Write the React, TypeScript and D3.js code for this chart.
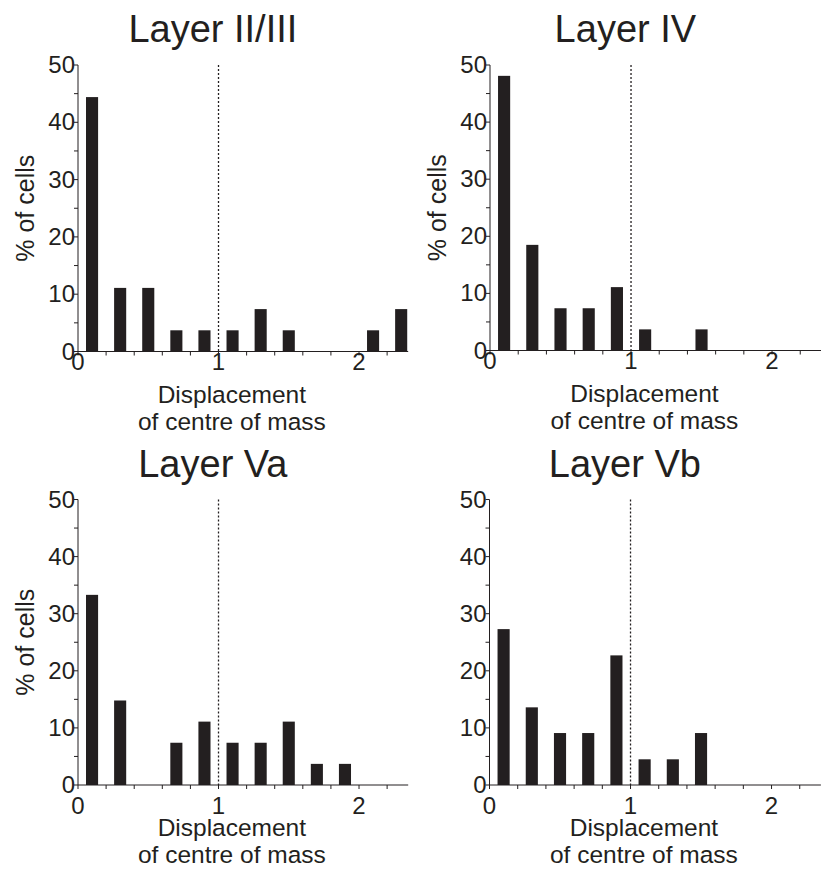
import React from "react";
import * as d3 from "d3";

const binCenters = [0.1, 0.3, 0.5, 0.7, 0.9, 1.1, 1.3, 1.5, 1.7, 1.9, 2.1, 2.3];
const layerII_III = [44.4, 11.1, 11.1, 3.7, 3.7, 3.7, 7.4, 3.7, 0, 0, 3.7, 7.4];
const layerIV = [48.1, 18.5, 7.4, 7.4, 11.1, 3.7, 0, 3.7, 0, 0, 0, 0];
const layerVa = [33.3, 14.8, 0, 7.4, 11.1, 7.4, 7.4, 11.1, 3.7, 3.7, 0, 0];
const layerVb = [27.3, 13.6, 9.1, 9.1, 22.7, 4.5, 4.5, 9.1, 0, 0, 0, 0];
const titles = ["Layer II/III", "Layer IV", "Layer Va", "Layer Vb"];
const yTickLabels = [0, 10, 20, 30, 40, 50];
const xTickLabels = [0, 1, 2];
const yLabel = "% of cells";
const xLabelLines = ["Displacement", "of centre of mass"];

const INK = "#231f20";
const FONT = "'Liberation Sans', Arial, Helvetica, sans-serif";

type PanelProps = {
  title: string;
  values: number[];
  xr: [number, number];
  yr: [number, number];
  showYLabel: boolean;
  tickLabelOffset: number;
};

function Panel({ title, values, xr, yr, showYLabel, tickLabelOffset }: PanelProps) {
  const x = d3.scaleLinear().domain([0, 2.35]).range(xr);
  const y = d3.scaleLinear().domain([0, 50]).range(yr);
  const barW = 0.086;
  const xMinor = d3.range(0, 2.35, 0.2).map((v) => +v.toFixed(2));
  const yMinor = d3.range(0, 50.1, 5);
  const y0 = y(0);
  const x0 = x(0);
  return (
    <g>
      {values.map((v, i) =>
        v > 0 ? (
          <rect
            key={i}
            x={x(binCenters[i] - barW / 2)}
            width={x(binCenters[i] + barW / 2) - x(binCenters[i] - barW / 2)}
            y={y(v)}
            height={y0 - y(v)}
            fill={INK}
          />
        ) : null
      )}
      <line
        x1={x(1)}
        x2={x(1)}
        y1={y(50)}
        y2={y0}
        stroke={INK}
        strokeWidth={1.3}
        strokeDasharray="2,2"
      />
      <line x1={x0} x2={x0} y1={y(50)} y2={y0} stroke={INK} strokeWidth={1} />
      <line x1={x0} x2={x(2.35)} y1={y0} y2={y0} stroke={INK} strokeWidth={1} />
      {yMinor.map((t) => (
        <line key={"yt" + t} x1={x0 - 4} x2={x0} y1={y(t)} y2={y(t)} stroke={INK} strokeWidth={1} />
      ))}
      {xMinor.map((t) => (
        <line key={"xt" + t} x1={x(t)} x2={x(t)} y1={y0} y2={y0 + 4} stroke={INK} strokeWidth={1} />
      ))}
      {yTickLabels.map((t) => (
        <text
          key={"yl" + t}
          x={x0 - 3}
          y={y(t) + 8}
          textAnchor="end"
          fontSize={24}
          fontFamily={FONT}
          fill={INK}
        >
          {t}
        </text>
      ))}
      {xTickLabels.map((t) => (
        <text
          key={"xl" + t}
          x={x(t)}
          y={y0 + tickLabelOffset}
          textAnchor="middle"
          fontSize={24}
          fontFamily={FONT}
          fill={INK}
        >
          {t}
        </text>
      ))}
      {xLabelLines.map((s, i) => (
        <text
          key={"xlab" + i}
          x={x(1.095)}
          y={y0 + 51 + i * 27}
          textAnchor="middle"
          fontSize={24.5}
          fontFamily={FONT}
          fill={INK}
        >
          {s}
        </text>
      ))}
      {showYLabel ? (
        <text
          transform={`translate(${x0 - 44},${(y(50) + y0) / 2}) rotate(-90)`}
          textAnchor="middle"
          fontSize={25}
          fontFamily={FONT}
          fill={INK}
        >
          {yLabel}
        </text>
      ) : null}
      <text
        x={x(0.96)}
        y={y(50) - 23}
        textAnchor="middle"
        fontSize={38}
        fontFamily={FONT}
        fill={INK}
      >
        {title}
      </text>
    </g>
  );
}

export default function App() {
  return (
    <svg
      width={821}
      height={882}
      style={{ position: "absolute", left: 0, top: 0, background: "#fff" }}
    >
      <rect width={821} height={882} fill="#fff" />
      <Panel title={titles[0]} values={layerII_III} xr={[78, 408.2]} yr={[351.5, 65]} showYLabel tickLabelOffset={18} />
      <Panel title={titles[1]} values={layerIV} xr={[490, 821.4]} yr={[350.5, 65]} showYLabel tickLabelOffset={18} />
      <Panel title={titles[2]} values={layerVa} xr={[78, 408.2]} yr={[785, 499.5]} showYLabel tickLabelOffset={29} />
      <Panel title={titles[3]} values={layerVb} xr={[489.5, 820.9]} yr={[785, 499.5]} showYLabel={false} tickLabelOffset={29} />
    </svg>
  );
}
